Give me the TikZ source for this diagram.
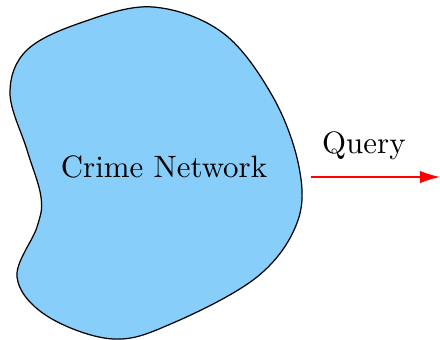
\documentclass[tikz,border=0pt]{standalone}
\usepackage{tikz}
\usetikzlibrary{arrows.meta}

\begin{document}
\begin{tikzpicture}[
    x=0.3236pt, y=-0.3236pt,
    network/.style = {draw=black, fill={rgb,255:red,135;green,206;blue,250}, line width=0.4pt},
    label/.style = {font=\normalsize},
    queryarrow/.style = {draw=red, -{Latex[length=6.5pt,width=4pt]}}
]
\useasboundingbox (0,0) rectangle (440,340);

% Network blob
\draw [network] plot [smooth cycle, tension=0.6] coordinates {
    (153,7) (223,33) (273,97) (299,167) (297,223) (257,277) (173,323)
    (113,339) (47,316) (17,277) (37,227) (41,197) (27,150) (10,93)
    (27,50) (83,22)};
\node (crime) [label] at (164,167) {Crime Network};

% Query arrow
\coordinate (netout) at (311,177);
\coordinate (queryend) at (440,177);
\draw [queryarrow] (netout) -- node [label, above=2pt, pos=0.41] (query) {Query} (queryend);

\end{tikzpicture}
\end{document}
